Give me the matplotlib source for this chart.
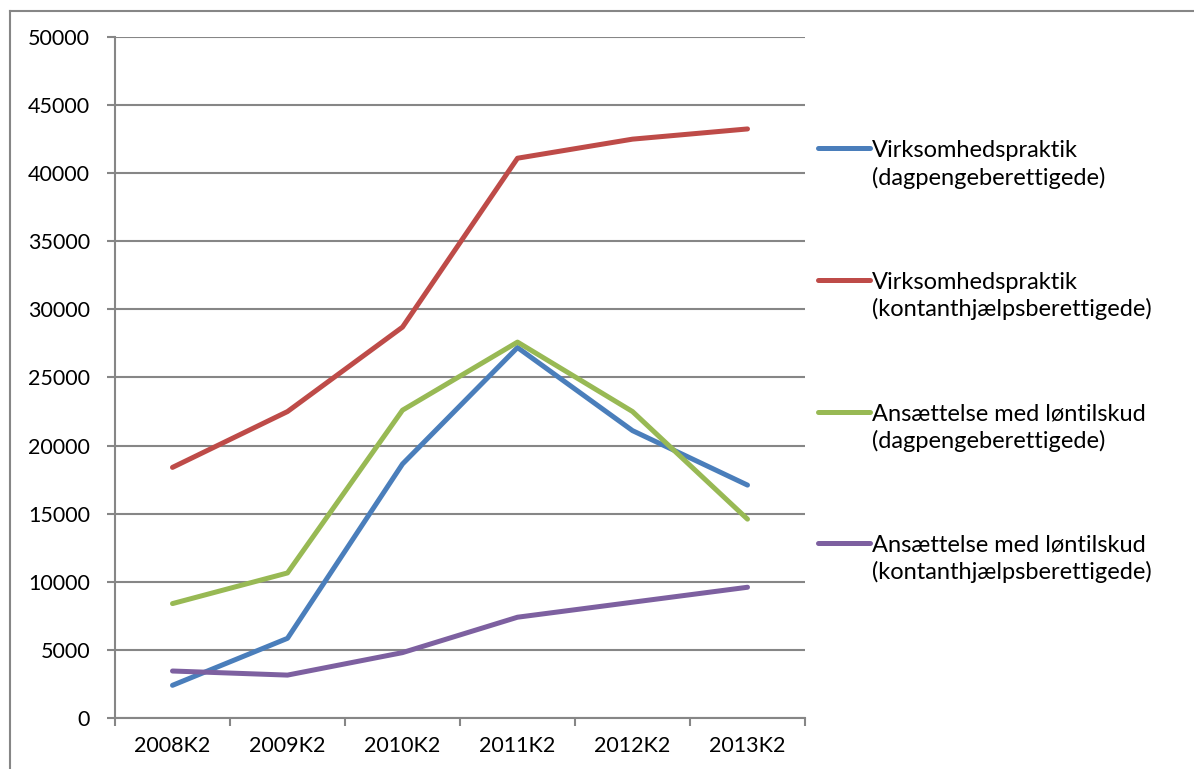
import matplotlib
matplotlib.use("Agg")
import matplotlib.pyplot as plt
from matplotlib.lines import Line2D

categories = ["2008K2", "2009K2", "2010K2", "2011K2", "2012K2", "2013K2"]
series_names = [
    "Virksomhedspraktik\n(dagpengeberettigede)",
    "Virksomhedspraktik\n(kontanthjælpsberettigede)",
    "Ansættelse med løntilskud\n(dagpengeberettigede)",
    "Ansættelse med løntilskud\n(kontanthjælpsberettigede)",
]
vp_dagpenge = [2400, 5850, 18650, 27200, 21100, 17100]
vp_kontant = [18400, 22500, 28700, 41100, 42500, 43250]
al_dagpenge = [8400, 10650, 22600, 27600, 22500, 14600]
al_kontant = [3450, 3150, 4800, 7400, 8500, 9600]
colors = ["#4A7EBB", "#BE4B48", "#98B954", "#7D60A0"]

plt.rcParams['font.family'] = ['Lato', 'DejaVu Sans']

fig = plt.figure(figsize=(11.94, 7.69), dpi=100)
ax = fig.add_axes([115/1194, 1 - 718/769, 690/1194, 681/769])

grey = "#868686"
x = list(range(len(categories)))
for vals, name, c in zip([vp_dagpenge, vp_kontant, al_dagpenge, al_kontant], series_names, colors):
    ax.plot(x, vals, color=c, lw=3.6, label=name, solid_capstyle="round", solid_joinstyle="round")

ax.set_xlim(-0.5, len(categories) - 0.5)
ax.set_ylim(0, 50000)
ax.set_yticks(range(0, 50001, 5000))
ax.set_yticklabels([str(v) for v in range(0, 50001, 5000)])
ax.set_xticks([i - 0.5 for i in range(len(categories) + 1)])
ax.set_xticklabels([])
ax.set_xticks(x, minor=True)
ax.set_xticklabels(categories, minor=True)
ax.tick_params(axis="x", which="minor", length=0, pad=13, labelsize=15.5)
ax.tick_params(axis="x", which="major", length=6, width=1.5, color=grey, direction="out")
ax.tick_params(axis="y", length=6, width=1.5, color=grey, pad=12, labelsize=15.5)
ax.grid(axis="y", color=grey, lw=1.5)
ax.set_axisbelow(True)
for s in ["top", "right"]:
    ax.spines[s].set_visible(False)
for s in ["left", "bottom"]:
    ax.spines[s].set_color(grey)
    ax.spines[s].set_linewidth(1.5)

leg = ax.legend(loc="upper left", bbox_to_anchor=(818/1194, 1 - 140/769), bbox_transform=fig.transFigure,
                frameon=False, fontsize=17, handlelength=2.2, handletextpad=0.1, labelspacing=3.52,
                borderpad=0, borderaxespad=0)
for t in leg.get_texts():
    t.set_linespacing(1.3)
for ln in leg.get_lines():
    ln.set_linewidth(3.6)
try:
    for col in leg._legend_handle_box.get_children():
        for hp in col.get_children():
            hp.align = "top"
except Exception:
    pass

# outer chart border (partially visible)
fig.add_artist(Line2D([10/1194, 10/1194], [0, 1 - 11/769], transform=fig.transFigure, color=grey, lw=1.5))
fig.add_artist(Line2D([10/1194, 1], [1 - 11/769, 1 - 11/769], transform=fig.transFigure, color=grey, lw=1.5))

fig.savefig("out.png", dpi=100)
